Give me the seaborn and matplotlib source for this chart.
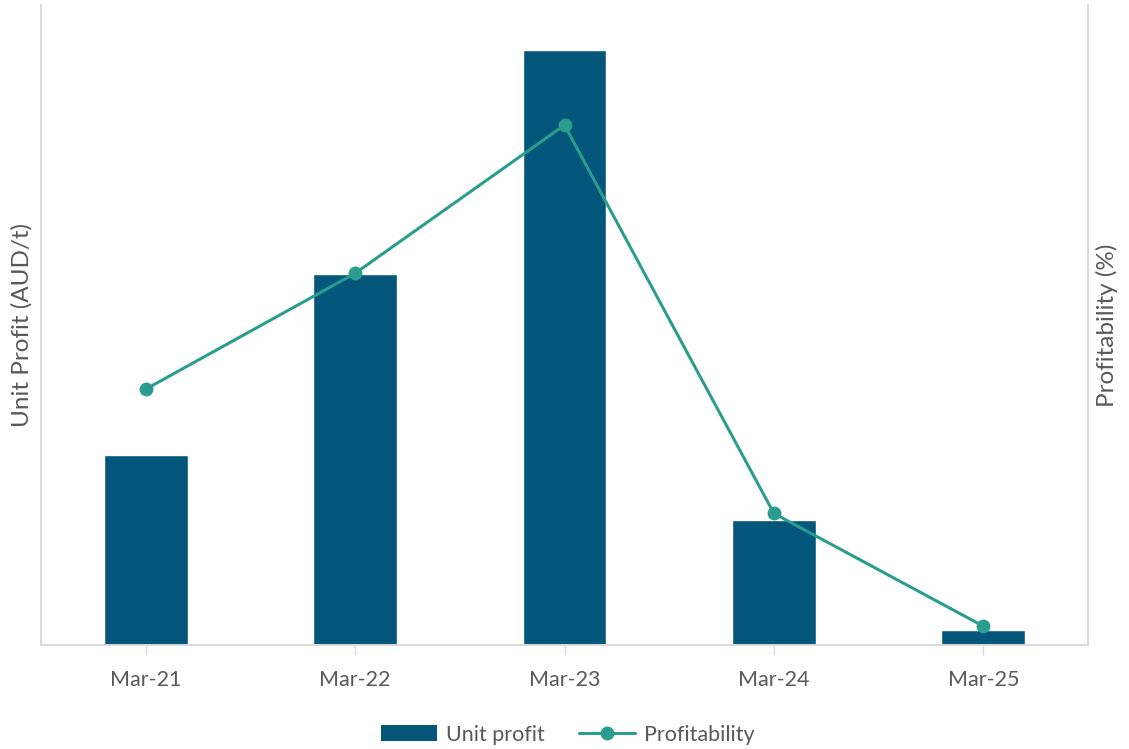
import matplotlib
matplotlib.use("Agg")
import matplotlib.pyplot as plt
import seaborn as sns
import pandas as pd
from matplotlib.lines import Line2D
from matplotlib.patches import Patch

# Data
periods = ["Mar-21", "Mar-22", "Mar-23", "Mar-24", "Mar-25"]
unit_profit = [190, 371, 595, 125, 15]          # AUD/t
profitability = [24.5, 35.6, 49.8, 12.6, 1.8]    # %

BAR_COLOR = "#04577A"
LINE_COLOR = "#2A9D8F"
TEXT_COLOR = "#595959"
AXIS_COLOR = "#D9D9D9"

sns.set_theme(style="white")
plt.rcParams["font.family"] = ["Lato", "DejaVu Sans"]

df = pd.DataFrame({"period": periods, "unit_profit": unit_profit,
                   "profitability": profitability})

fig = plt.figure(figsize=(11.29, 7.49), dpi=100)
ax = fig.add_axes([0.0363, 0.1389, 0.9274, 0.8544])

sns.barplot(data=df, x="period", y="unit_profit", color=BAR_COLOR,
            width=0.4, saturation=1, ax=ax)
ax.set_ylim(0, 640)
ax.set_xlim(-0.5, 4.5)

ax2 = ax.twinx()
sns.lineplot(x=list(range(len(periods))), y=profitability, color=LINE_COLOR,
             linewidth=2.2, marker="o", markersize=10, markeredgewidth=0,
             ax=ax2)
ax2.set_ylim(0, 61.3)

for a in (ax, ax2):
    a.set_yticks([])
    for s in a.spines.values():
        s.set_color(AXIS_COLOR)
        s.set_linewidth(1.2)
    a.spines["top"].set_visible(False)

ax.set_xlabel("")
ax.set_ylabel("Unit Profit (AUD/t)", color=TEXT_COLOR, fontsize=17.5,
              labelpad=6)
ax2.set_ylabel("Profitability (%)", color=TEXT_COLOR, fontsize=17.5,
               rotation=90, labelpad=6)
ax2.yaxis.set_label_position("right")

ax.tick_params(axis="x", colors=TEXT_COLOR, labelsize=15.5, length=7,
               width=1, color=AXIS_COLOR, pad=11)
ax.tick_params(axis="x", which="both", bottom=True, direction="out")

handles = [
    Patch(facecolor=BAR_COLOR, edgecolor="none", label="Unit profit"),
    Line2D([0], [0], color=LINE_COLOR, lw=2.2, marker="o", markersize=10,
           markeredgewidth=0, label="Profitability"),
]
fig.legend(handles=handles, loc="lower center", bbox_to_anchor=(0.503, -0.02),
           ncol=2, frameon=False, fontsize=15.5, labelcolor=TEXT_COLOR,
           handlelength=2.6, handleheight=0.8, columnspacing=1.6,
           handletextpad=0.4)

fig.savefig("out.png", dpi=100, facecolor="white")
